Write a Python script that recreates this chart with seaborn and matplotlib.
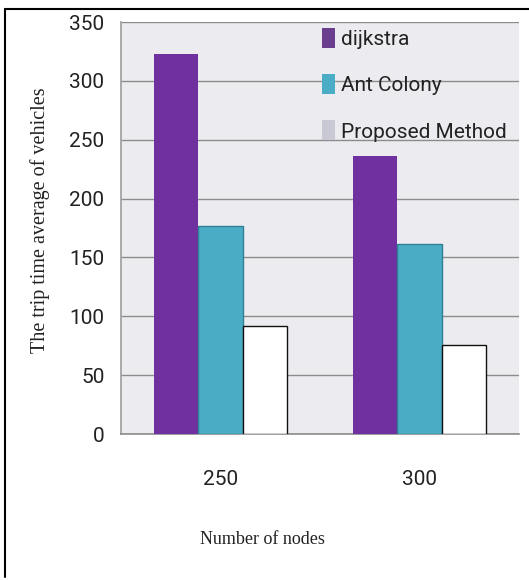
import matplotlib
matplotlib.use("Agg")
import matplotlib.pyplot as plt
import seaborn as sns
import pandas as pd
from matplotlib.patches import Patch
from matplotlib.lines import Line2D

categories = ["250", "300"]
methods = ["dijkstra", "Ant Colony", "Proposed Method"]
dijkstra = [323, 236]
ant_colony = [177, 161]
proposed = [92, 76]
yticks = [0, 50, 100, 150, 200, 250, 300, 350]

bar_colors = ["#7030A0", "#4BACC6", "#FFFFFF"]
legend_colors = ["#6A3D8F", "#4BACC6", "#C9C9D6"]

df = pd.DataFrame({
    "nodes": categories * 3,
    "method": [m for m in methods for _ in categories],
    "value": dijkstra + ant_colony + proposed,
})

sns.set_theme(style="white")
sans = ["Liberation Sans Narrow", "Roboto", "DejaVu Sans"]
serif = ["Liberation Serif", "DejaVu Serif"]

fig = plt.figure(figsize=(5.29, 5.80), dpi=100)
ax = fig.add_axes([121/529, 1 - 434/580, (519-121)/529, (434-22)/580])
ax.set_facecolor("#ECECF0")

sns.barplot(data=df, x="nodes", y="value", hue="method", order=categories,
            hue_order=methods, palette=bar_colors, width=0.67, gap=0,
            saturation=1, ax=ax, legend=False, zorder=3)

edges = ["none", "#2F7F95", "#111111"]
for cont, ec in zip(ax.containers, edges):
    for p in cont:
        if ec == "none":
            p.set_linewidth(0)
        else:
            p.set_edgecolor(ec)
            p.set_linewidth(1.0)

ax.set_ylim(0, 350)
ax.set_xlim(-0.5, 1.5)
ax.set_yticks(yticks)
ax.yaxis.grid(True, color="#8C8C8C", linewidth=1.0, zorder=1)
ax.set_axisbelow(True)
for s in ["top", "right"]:
    ax.spines[s].set_visible(False)
ax.spines["left"].set_color("#A0A0A0")
ax.spines["bottom"].set_color("#8C8C8C")
ax.spines["bottom"].set_linewidth(1.2)

ax.tick_params(axis="y", length=6, color="#8C8C8C", width=1, direction="out", pad=6)
ax.tick_params(axis="x", length=0, pad=26)
for lab in ax.get_yticklabels() + ax.get_xticklabels():
    lab.set_fontfamily(sans)
    lab.set_fontsize(15)
    lab.set_color("#222222")

# category boundary tick marks on x axis
ax.set_xticks([-0.5, 0.5, 1.5], minor=True)
ax.tick_params(axis="x", which="minor", length=10, color="#8C8C8C", width=1, direction="out")

ax.set_xlabel("")
ax.set_ylabel("")
fig.text(40/529, 1 - 220/580, "The trip time average of vehicles", rotation=90,
         ha="center", va="center", fontsize=14.5, family=serif, color="#222222")
fig.text(262/529, 1 - 540/580, "Number of nodes", ha="center", va="center",
         fontsize=13, family=serif, color="#222222")

handles = [Patch(facecolor=c, edgecolor="none") for c in legend_colors]
leg = fig.legend(handles, methods, loc="upper left",
                 bbox_to_anchor=(314/529, 1 - 20/580), frameon=False,
                 prop={"family": sans, "size": 15}, handlelength=0.6,
                 handleheight=1.1, handletextpad=0.3, labelspacing=1.2,
                 borderaxespad=0)
for t in leg.get_texts():
    t.set_color("#222222")

# outer frame (top and left)
fig.add_artist(Line2D([5/529, 1.0], [1 - 9/580, 1 - 9/580], transform=fig.transFigure,
                      color="black", linewidth=1.5))
fig.add_artist(Line2D([5/529, 5/529], [1 - 9/580, 1 - 577/580], transform=fig.transFigure,
                      color="black", linewidth=1.5))

fig.savefig("out.png", dpi=100)
